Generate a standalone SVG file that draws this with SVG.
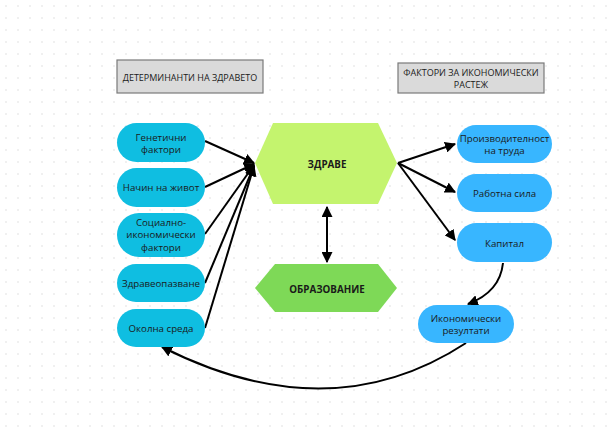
<svg xmlns="http://www.w3.org/2000/svg" width="616" height="432" viewBox="0 0 616 432">
  <style>
    text { font-family: "Open Sans", "Noto Sans", "Liberation Sans", sans-serif; fill: #1a1a1a; text-anchor: middle; dominant-baseline: central; }
    .t { font-size: 9.7px; }
    .title { font-size: 9px; }
    .b { font-size: 9.8px; font-weight: 700; }
    .left { fill: #0FBEE1; }
    .right { fill: #38B6FF; }
    .head { fill: #dadada; stroke: #7a7a7a; stroke-width: 1.2; }
    .edge { fill: none; stroke: #000; stroke-width: 2; marker-end: url(#ah); }
  </style>
  <defs>
    <pattern id="dots" width="12" height="12" patternUnits="userSpaceOnUse">
      <circle cx="6" cy="6" r="0.7" fill="#d4d4d4"/>
    </pattern>
    <marker id="ah" viewBox="0 0 10 10" refX="9" refY="5" markerWidth="5.5" markerHeight="5.5" orient="auto-start-reverse">
      <path d="M0,0 L10,5 L0,10 z" fill="#000"/>
    </marker>
  </defs>

  <rect width="616" height="432" fill="#fff"/>
  <rect width="616" height="432" fill="url(#dots)"/>

  <!-- headings -->
  <g id="head-determinants">
    <rect class="head" x="117" y="60" width="146" height="33"/>
    <text class="title" x="190" y="77">ДЕТЕРМИНАНТИ НА ЗДРАВЕТО</text>
  </g>
  <g id="head-growth">
    <rect class="head" x="398" y="63" width="146" height="30"/>
    <text class="title" x="471" y="72">ФАКТОРИ ЗА ИКОНОМИЧЕСКИ</text>
    <text class="title" x="471" y="84">РАСТЕЖ</text>
  </g>

  <!-- connectors -->
  <g id="connectors">
    <line class="edge" x1="205" y1="141" x2="254" y2="163"/>
    <line class="edge" x1="205" y1="187" x2="254" y2="164"/>
    <line class="edge" x1="205" y1="234" x2="254" y2="165"/>
    <line class="edge" x1="205" y1="283" x2="254" y2="166"/>
    <line class="edge" x1="205" y1="328" x2="254" y2="166"/>
    <line class="edge" x1="398" y1="163" x2="455" y2="144"/>
    <line class="edge" x1="398" y1="163" x2="455" y2="192"/>
    <line class="edge" x1="398" y1="163" x2="455" y2="240"/>
    <line class="edge" x1="327" y1="207" x2="327" y2="262" marker-start="url(#ah)"/>
    <path class="edge" d="M503,263 Q500,292 468,304"/>
    <path class="edge" d="M466,343 Q330,432 162,347"/>
  </g>

  <!-- central nodes -->
  <g id="health">
    <polygon points="255,163 273,123 378,123 397,163 378,204 273,204" fill="#C4F46E"/>
    <text class="b" x="327" y="164">ЗДРАВЕ</text>
  </g>
  <g id="education">
    <polygon points="255,288 275,264 378,264 397,288 378,312 275,312" fill="#7ED957"/>
    <text class="b" x="327" y="289">ОБРАЗОВАНИЕ</text>
  </g>

  <!-- determinants of health -->
  <g id="genetic">
    <rect class="left" x="117" y="123" width="88" height="39" rx="19.5"/>
    <text class="t" x="161" y="137">Генетични</text>
    <text class="t" x="161" y="149.5">фактори</text>
  </g>
  <g id="lifestyle">
    <rect class="left" x="117" y="168" width="88" height="39" rx="19.5"/>
    <text class="t" x="161" y="187.5">Начин на живот</text>
  </g>
  <g id="socio-economic">
    <rect class="left" x="117" y="213" width="88" height="44" rx="22"/>
    <text class="t" x="161" y="222">Социално-</text>
    <text class="t" x="161" y="234.5">икономически</text>
    <text class="t" x="161" y="247">фактори</text>
  </g>
  <g id="healthcare">
    <rect class="left" x="117" y="264" width="88" height="38" rx="19"/>
    <text class="t" x="161" y="283">Здравеопазване</text>
  </g>
  <g id="environment">
    <rect class="left" x="117" y="309" width="88" height="38" rx="19"/>
    <text class="t" x="161" y="328">Околна среда</text>
  </g>

  <!-- growth factors -->
  <g id="productivity">
    <rect class="right" x="457" y="125" width="95" height="38" rx="19"/>
    <text class="t" x="504.5" y="138">Производителност</text>
    <text class="t" x="504.5" y="150.5">на труда</text>
  </g>
  <g id="labour">
    <rect class="right" x="457" y="174" width="95" height="38" rx="19"/>
    <text class="t" x="504.5" y="193">Работна сила</text>
  </g>
  <g id="capital">
    <rect class="right" x="457" y="223" width="95" height="39" rx="19.5"/>
    <text class="t" x="504.5" y="243">Капитал</text>
  </g>
  <g id="economic-results">
    <rect class="right" x="418" y="305" width="96" height="38" rx="19"/>
    <text class="t" x="466" y="318">Икономически</text>
    <text class="t" x="466" y="330.5">резултати</text>
  </g>
</svg>
